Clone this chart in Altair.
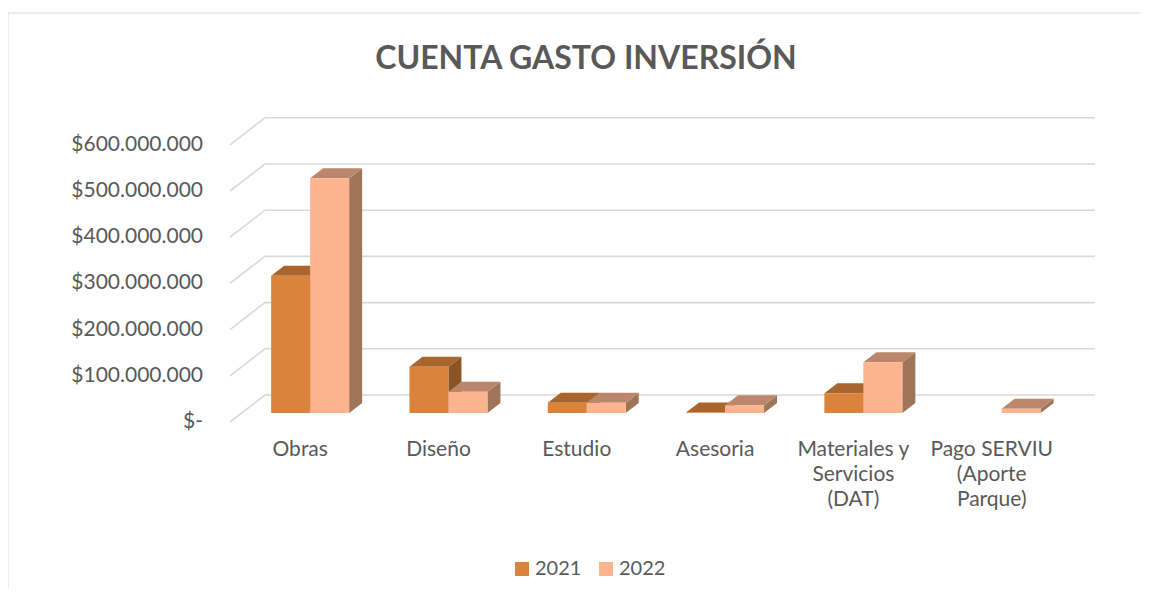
import altair as alt
import pandas as pd

# ---------------- data ----------------
title_text = "CUENTA GASTO INVERSIÓN"
categories = ["Obras", "Diseño", "Estudio", "Asesoria",
              "Materiales y\nServicios\n(DAT)", "Pago SERVIU\n(Aporte\nParque)"]
series = ["2021", "2022"]
values_2021 = [297e6, 100e6, 22e6, 1e6, 43e6, 0]
values_2022 = [508e6, 46e6, 22e6, 17e6, 110e6, 9e6]
tick_values = [0, 1e8, 2e8, 3e8, 4e8, 5e8, 6e8]
tick_labels = ["$-\u2002", "$100.000.000", "$200.000.000", "$300.000.000",
               "$400.000.000", "$500.000.000", "$600.000.000"]

# ---------------- styles / layout ----------------
front_colors = ["#DA833C", "#FBB48D"]
top_colors = ["#A9652D", "#BB876C"]
side_colors = ["#8B5424", "#A07459"]
GRID = "#D9D9D9"
TXT = "#595959"
FONT = "Lato"

W, H = 870, 330
PX_U = 138.3            # px per category unit
PX_V = 46.2 / 1e8       # px per currency unit
X0_PX = 11              # bar front plane origin from plot left
Y0_PX = 17              # bar floor above plot bottom
xs = alt.Scale(domain=[-X0_PX / PX_U, (W - X0_PX) / PX_U], nice=False, zero=False)
ys = alt.Scale(domain=[-Y0_PX / PX_V, (H - Y0_PX) / PX_V], nice=False, zero=False)

GAP = 0.218
BW = 39 / PX_U
DX = 13 / PX_U
DY = 10 / PX_V
WALL_DX = 24 / PX_U
WALL_DY = 18 / PX_V
FRONT_DX = -11 / PX_U
FRONT_DY = -9 / PX_V
WALL_RIGHT = (1095 - 241) / PX_U

# ---------------- geometry derived from data ----------------
fronts, tops, sides = [], [], []
for i, cat in enumerate(categories):
    for s, vals in enumerate([values_2021, values_2022]):
        v = vals[i]
        if v <= 0:
            continue
        x0 = i + GAP + s * BW
        x1 = x0 + BW
        key = f"{i}-{s}"
        fronts.append(dict(x=x0, x2=x1, y=0, y2=v, series=series[s]))
        for px, lo, hi in [(x0, v, v), (x0 + DX, v, v + DY), (x1, v, v + DY), (x1 + DX, v + DY, v + DY)]:
            tops.append(dict(x=px, lo=lo, hi=hi, key=key, series=series[s]))
        for px, lo, hi in [(x1, 0, v), (x1 + DX, DY, v + DY)]:
            sides.append(dict(x=px, lo=lo, hi=hi, key=key, series=series[s]))
front_df = pd.DataFrame(fronts)
top_df = pd.DataFrame(tops)
side_df = pd.DataFrame(sides)

grid_rows = []
for t in tick_values:
    grid_rows += [dict(x=FRONT_DX, y=t + FRONT_DY, tick=t, pt=0),
                  dict(x=WALL_DX, y=t + WALL_DY, tick=t, pt=1),
                  dict(x=WALL_RIGHT, y=t + WALL_DY, tick=t, pt=2)]
grid_df = pd.DataFrame(grid_rows)

ylab_df = pd.DataFrame(dict(x=[FRONT_DX] * len(tick_values),
                            y=[t + FRONT_DY for t in tick_values],
                            label=tick_labels))
cat_df = pd.DataFrame(dict(x=[i + 0.428 for i in range(len(categories))], label=categories))

X = lambda f="x": alt.X(f"{f}:Q", scale=xs, axis=None)
Y = lambda f="y": alt.Y(f"{f}:Q", scale=ys, axis=None)

one = pd.DataFrame({"a": [0]})

frame = alt.Chart(one).mark_rect(
    fillOpacity=0, stroke=GRID, strokeWidth=1
).encode(x=alt.value(-222), x2=alt.value(1100), y=alt.value(-87), y2=alt.value(700))

title = alt.Chart(pd.DataFrame({"t": [title_text]})).mark_text(
    font=FONT, fontSize=32, fontWeight="bold", color=TXT, align="center", baseline="alphabetic"
).encode(x=alt.value(356), y=alt.value(-31), text="t:N")

grid = alt.Chart(grid_df).mark_line(color=GRID, strokeWidth=1.6).encode(
    x=X(), y=Y(), detail="tick:N", order="pt:O")

ylabels = alt.Chart(ylab_df).mark_text(
    align="right", baseline="middle", dx=-27, font=FONT, fontSize=21, color=TXT
).encode(x=X(), y=Y(), text="label:N")

side_layer = alt.Chart(side_df).mark_area(interpolate="linear").encode(
    x=X(), y=Y("lo"), y2="hi", detail="key:N",
    color=alt.Color("series:N", scale=alt.Scale(domain=series, range=side_colors), legend=None))

top_layer = alt.Chart(top_df).mark_area(interpolate="linear").encode(
    x=X(), y=Y("lo"), y2="hi", detail="key:N",
    color=alt.Color("series:N", scale=alt.Scale(domain=series, range=top_colors), legend=None))

front_layer = alt.Chart(front_df).mark_rect().encode(
    x=X(), x2="x2", y=Y(), y2="y2",
    color=alt.Color("series:N", scale=alt.Scale(domain=series, range=front_colors),
                    legend=alt.Legend(title=None, orient="none", legendX=282, legendY=459,
                                      direction="horizontal", symbolType="square",
                                      symbolSize=196, symbolStrokeWidth=0,
                                      labelFont=FONT, labelFontSize=20, labelColor=TXT,
                                      labelOffset=3, columnPadding=14, padding=0)))

cat_labels = alt.Chart(cat_df).mark_text(
    baseline="top", align="center", lineBreak="\n", lineHeight=25,
    font=FONT, fontSize=21, color=TXT
).encode(x=X(), y=alt.value(339), text="label:N")

chart = alt.layer(frame, title, grid, ylabels, side_layer, top_layer, front_layer, cat_labels).resolve_scale(
    color="independent"
).properties(
    width=W, height=H,
    padding={"left": 222, "top": 92, "right": 41, "bottom": 158},
    autosize=alt.AutoSizeParams(type="none"),
).configure_view(stroke=None)

chart.save("out.html", embed_options={"renderer": "svg", "actions": False})
